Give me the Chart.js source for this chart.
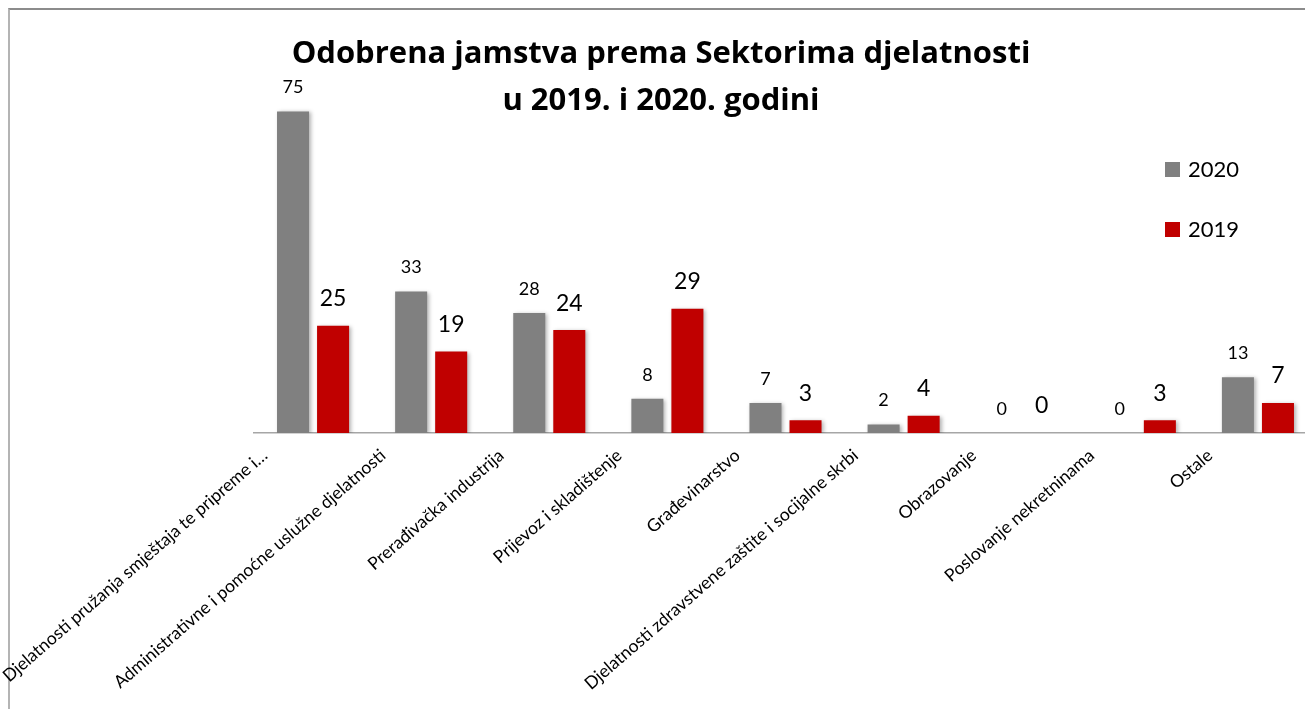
<!DOCTYPE html>
<html>
<head>
<meta charset="utf-8">
<script src="https://cdn.jsdelivr.net/npm/chart.js@4.4.1/dist/chart.umd.min.js"></script>
<style>
    html, body { margin: 0; padding: 0; background: #fff; overflow: hidden; }
    body { width: 1305px; height: 709px; position: relative; }
    #frame { position: absolute; left: 8px; top: 8px; width: 1400px; height: 800px;
             border-top: 2px solid #8c8c8c; border-left: 2px solid #b4b4b4; }
    #chart { position: absolute; left: 0; top: 0; }
</style>
</head>
<body>
<div id="frame"></div>
<canvas id="chart" width="1330" height="709"></canvas>
<script>
// kategorije (sektori djelatnosti)
const categories = [
    'Djelatnosti pružanja smještaja te pripreme i…',
    'Administrativne i pomoćne uslužne djelatnosti',
    'Prerađivačka industrija',
    'Prijevoz i skladištenje',
    'Građevinarstvo',
    'Djelatnosti zdravstvene zaštite i socijalne skrbi',
    'Obrazovanje',
    'Poslovanje nekretninama',
    'Ostale'
];
const values2020 = [75, 33, 28, 8, 7, 2, 0, 0, 13];
const values2019 = [25, 19, 24, 29, 3, 4, 0, 3, 7];
const seriesNames = ['2020', '2019'];
const titleLines = ['Odobrena jamstva prema Sektorima djelatnosti', 'u 2019. i 2020. godini'];

const FONT = 'Lato, "Open Sans", sans-serif';
const TITLE_FONT = '"Open Sans", Lato, sans-serif';
const COLORS = ['#808080', '#C00000'];

// sjena ispod stupaca
const shadowPlugin = {
    id: 'barShadow',
    beforeDatasetsDraw(chart) {
        const ctx = chart.ctx;
        ctx.save();
        ctx.shadowColor = 'rgba(0,0,0,0.3)';
        ctx.shadowBlur = 4;
        ctx.shadowOffsetX = 2;
        ctx.shadowOffsetY = 1;
    },
    afterDatasetsDraw(chart) {
        chart.ctx.restore();
    }
};

// vrijednosti iznad stupaca, naslov i legenda
const labelsPlugin = {
    id: 'extraText',
    afterDraw(chart) {
        const ctx = chart.ctx;
        ctx.save();
        ctx.fillStyle = '#000';
        ctx.textAlign = 'center';
        ctx.textBaseline = 'middle';
        chart.data.datasets.forEach((ds, i) => {
            const meta = chart.getDatasetMeta(i);
            ctx.font = (i === 0 ? '18px ' : '23px ') + FONT;
            const gap = i === 0 ? 24 : 27;
            meta.data.forEach((bar, j) => {
                ctx.fillText(String(ds.data[j]), bar.x, bar.y - gap);
            });
        });

        // naslov
        ctx.font = 'bold 31px ' + TITLE_FONT;
        ctx.textBaseline = 'alphabetic';
        ctx.fillText(titleLines[0], 661, 63);
        ctx.fillText(titleLines[1], 661, 110);

        // legenda
        ctx.textAlign = 'left';
        ctx.textBaseline = 'middle';
        ctx.font = '22px ' + FONT;
        chart.data.datasets.forEach((ds, i) => {
            const y = 162 + i * 60;
            ctx.fillStyle = ds.backgroundColor;
            ctx.fillRect(1165, y, 15, 15);
            ctx.fillStyle = '#000';
            ctx.fillText(ds.label, 1188, y + 8);
        });
        ctx.restore();
    }
};

new Chart(document.getElementById('chart').getContext('2d'), {
    type: 'bar',
    data: {
        labels: categories,
        datasets: [
            { label: seriesNames[0], data: values2020, backgroundColor: COLORS[0] },
            { label: seriesNames[1], data: values2019, backgroundColor: COLORS[1] }
        ]
    },
    options: {
        responsive: false,
        animation: false,
        layout: { padding: { top: 90, left: 254, right: 13, bottom: 0 } },
        datasets: {
            bar: { barPercentage: 0.8, categoryPercentage: 0.678 }
        },
        plugins: {
            legend: { display: false },
            title: { display: false },
            tooltip: { enabled: false }
        },
        scales: {
            x: {
                grid: { display: false },
                border: { display: true, color: '#a6a6a6', width: 1.5 },
                ticks: {
                    autoSkip: false,
                    minRotation: 41,
                    maxRotation: 41,
                    labelOffset: -48,
                    padding: 4,
                    color: '#000',
                    font: { family: FONT, size: 17.5 }
                },
                afterFit(scale) { scale.height = 276; }
            },
            y: {
                display: false,
                min: 0,
                max: 80
            }
        }
    },
    plugins: [shadowPlugin, labelsPlugin]
});
</script>
</body>
</html>
